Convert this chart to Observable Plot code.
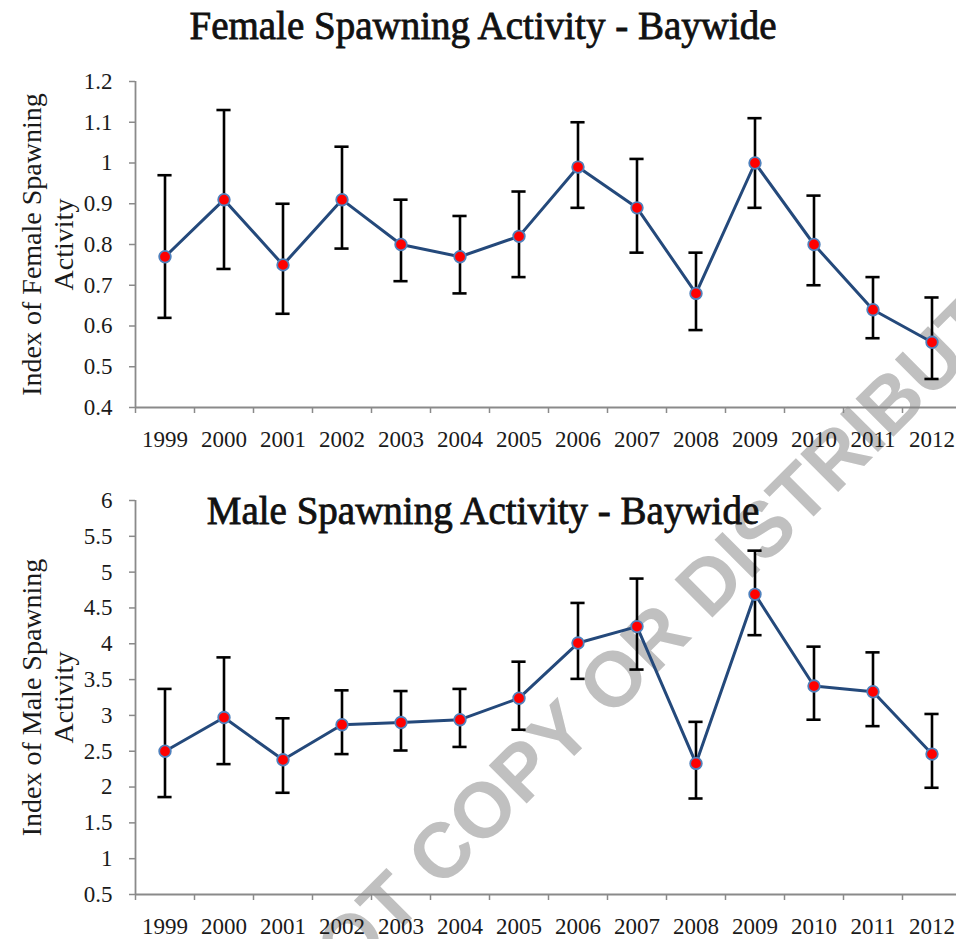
<!DOCTYPE html>
<html>
<head>
<meta charset="utf-8">
<script src="https://cdn.jsdelivr.net/npm/d3@7"></script>
<script src="https://cdn.jsdelivr.net/npm/@observablehq/plot@0.6"></script>
<style>
  html, body { margin: 0; padding: 0; background: #fff; }
  #page { position: relative; width: 956px; height: 939px; overflow: hidden; background: #fff; }
  .title { position: absolute; left: 0; width: 966px; text-align: center;
           font-family: "Liberation Serif", serif; font-weight: normal; font-size: 39px; color: #111;
           -webkit-text-stroke: 0.8px #111; }
  .panel { position: absolute; left: 0; }
  #mark { position: absolute; left: 0; top: 0; }
</style>
</head>
<body>
<div id="page">
  <svg id="mark" width="956" height="939"></svg>
  <div class="panel" id="female" style="top:0"></div>
  <div class="panel" id="male" style="top:460px"></div>
  <div class="title" style="top:3px">Female Spawning Activity - Baywide</div>
  <div class="title" style="top:488px">Male Spawning Activity - Baywide</div>
</div>
<script>
// Survey years
const years = [1999, 2000, 2001, 2002, 2003, 2004, 2005, 2006, 2007, 2008, 2009, 2010, 2011, 2012];

// Female spawning index with error-bar bounds
const femaleIndex = [0.77, 0.91, 0.75, 0.91, 0.80, 0.77, 0.82, 0.99, 0.89, 0.68, 1.00, 0.80, 0.64, 0.56];
const femaleLow   = [0.62, 0.74, 0.63, 0.79, 0.71, 0.68, 0.72, 0.89, 0.78, 0.59, 0.89, 0.70, 0.57, 0.47];
const femaleHigh  = [0.97, 1.13, 0.90, 1.04, 0.91, 0.87, 0.93, 1.10, 1.01, 0.78, 1.11, 0.92, 0.72, 0.67];

// Male spawning index with error-bar bounds
const maleIndex = [2.50, 2.97, 2.38, 2.87, 2.90, 2.94, 3.24, 4.01, 4.24, 2.33, 4.69, 3.41, 3.33, 2.46];
const maleLow   = [1.86, 2.32, 1.92, 2.46, 2.51, 2.56, 2.80, 3.51, 3.64, 1.84, 4.12, 2.94, 2.85, 1.99];
const maleHigh  = [3.37, 3.81, 2.96, 3.35, 3.34, 3.37, 3.75, 4.57, 4.91, 2.91, 5.30, 3.96, 3.88, 3.02];

// Axis ticks
const femaleTicks = [0.4, 0.5, 0.6, 0.7, 0.8, 0.9, 1, 1.1, 1.2];
const femaleTickLabels = ["0.4", "0.5", "0.6", "0.7", "0.8", "0.9", "1", "1.1", "1.2"];
const maleTicks = [0.5, 1, 1.5, 2, 2.5, 3, 3.5, 4, 4.5, 5, 5.5, 6];
const maleTickLabels = ["0.5", "1", "1.5", "2", "2.5", "3", "3.5", "4", "4.5", "5", "5.5", "6"];

const serif = "Liberation Serif, serif";
const axisGray = "#8a8a8a";
const lineBlue = "#24497b";
const capHalf = 0.12; // half-width of error-bar caps, in years

function panel({values, low, high, ticks, tickLabels, domain, label, height, marginTop, marginBottom}) {
  const rows = years.map((year, i) => ({year, value: values[i], low: low[i], high: high[i]}));
  const bounds = [years[0] - 0.5, ...years.map(y => y + 0.5)];
  const labelOf = new Map(ticks.map((t, i) => [t, tickLabels[i]]));
  return Plot.plot({
    width: 956,
    height,
    marginTop,
    marginBottom,
    marginLeft: 135,
    marginRight: 0,
    style: {background: "transparent", fontFamily: serif, fontSize: "23px", color: "#1a1a1a", overflow: "visible"},
    x: {domain: [bounds[0], bounds[bounds.length - 1]], range: [135, 961], label: null},
    y: {domain, label: null},
    marks: [
      // boundary tick marks below the x axis
      Plot.axisX({ticks: bounds, tickSize: 6, tickFormat: () => "", stroke: axisGray, strokeWidth: 1.5, label: null}),
      // year labels centred under each category
      Plot.axisX({ticks: years, tickSize: 0, tickPadding: 23, tickFormat: d => String(d), fontSize: 23, label: null}),
      Plot.axisY({ticks, tickSize: 6, tickPadding: 17, tickFormat: d => labelOf.get(d), stroke: axisGray, strokeWidth: 1.5, fontSize: 23, label: null}),
      Plot.ruleY([domain[0]], {stroke: axisGray, strokeWidth: 1.8}),
      Plot.ruleX([bounds[0]], {stroke: axisGray, strokeWidth: 1.8}),
      Plot.text([label], {
        frameAnchor: "left", text: d => d, rotate: -90, dx: -89,
        fontSize: 28, lineHeight: 1.15, fill: "#1a1a1a", textAnchor: "middle", lineAnchor: "middle"
      }),
      // error bars
      Plot.ruleX(rows, {x: "year", y1: "low", y2: "high", stroke: "#000", strokeWidth: 2.6}),
      Plot.ruleY(rows, {y: "high", x1: d => d.year - capHalf, x2: d => d.year + capHalf, stroke: "#000", strokeWidth: 2.6}),
      Plot.ruleY(rows, {y: "low", x1: d => d.year - capHalf, x2: d => d.year + capHalf, stroke: "#000", strokeWidth: 2.6}),
      // series
      Plot.line(rows, {x: "year", y: "value", stroke: lineBlue, strokeWidth: 3}),
      Plot.dot(rows, {x: "year", y: "value", r: 5.8, fill: "#ff0000", stroke: "#4f81bd", strokeWidth: 1.8})
    ]
  });
}

document.getElementById("female").append(panel({
  values: femaleIndex, low: femaleLow, high: femaleHigh,
  ticks: femaleTicks, tickLabels: femaleTickLabels, domain: [0.4, 1.2],
  label: "Index of Female Spawning\nActivity",
  height: 460, marginTop: 81, marginBottom: 53
}));

document.getElementById("male").append(panel({
  values: maleIndex, low: maleLow, high: maleHigh,
  ticks: maleTicks, tickLabels: maleTickLabels, domain: [0.5, 6],
  label: "Index of Male Spawning\nActivity",
  height: 479, marginTop: 40, marginBottom: 45
}));

// Diagonal watermark behind both panels
d3.select("#mark").append("text")
  .attr("transform", "translate(606,686) rotate(-45)")
  .attr("text-anchor", "middle")
  .attr("dominant-baseline", "central")
  .attr("font-family", "Liberation Sans, Arial, sans-serif")
  .attr("font-weight", "bold")
  .attr("font-size", 78)
  .attr("fill", "#c0c0c0")
  .text("DO NOT COPY OR DISTRIBUTE");
</script>
</body>
</html>
